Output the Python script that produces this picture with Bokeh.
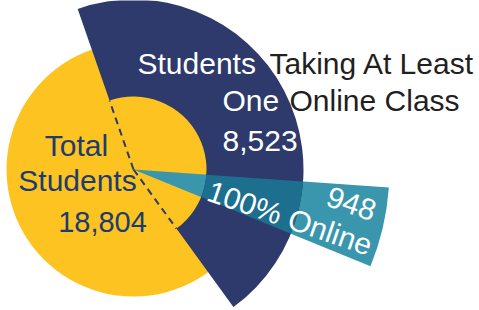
import math
from bokeh.plotting import figure
from bokeh.models import Range1d
from bokeh.core.properties import value
from bokeh.embed import file_html
from bokeh.resources import INLINE

# ---- data ----
categories = ["Total Students", "Students Taking At Least One Online Class", "100% Online"]
values = [18804, 8523, 948]
value_labels = [f"{v:,}" for v in values]

# ---- styles ----
YELLOW = "#FDC320"
NAVY = "#2D3A6B"
TEAL = "#3A96AD"
TEAL_DARK = "#1D6F8F"
LABEL_BLUE = "#1C3C70"
DARK = "#231F20"
FONT = value("Liberation Sans")

R_TOTAL = 127
R_INNER = 73
R_ONLINE = 170
R_FULL = 256
navy_start = math.radians(-54.0)
teal_start = math.radians(-22.2)

total = values[0]
navy_end = navy_start + 2 * math.pi * values[1] / total
teal_end = teal_start + 2 * math.pi * values[2] / total

W, H = 479, 310
cx_page, cy_page = 133, 169
x0 = -cx_page
y1 = cy_page

p = figure(width=W, height=H, output_backend="svg", toolbar_location=None,
           x_axis_type=None, y_axis_type=None, min_border=0,
           x_range=Range1d(x0, x0 + W), y_range=Range1d(y1 - H, y1))
p.outline_line_color = None
p.background_fill_color = "white"
p.border_fill_color = "white"

# total circle
p.wedge(x=[0], y=[0], radius=[R_TOTAL], start_angle=[0], end_angle=[2 * math.pi - 1e-6],
        fill_color=YELLOW, line_color=None)
# 100% online wedge
p.wedge(x=[0], y=[0], radius=[R_FULL], start_angle=[teal_start], end_angle=[teal_end],
        fill_color=TEAL, line_color=None)
# at least one online class
p.annular_wedge(x=[0], y=[0], inner_radius=[R_INNER], outer_radius=[R_ONLINE],
                start_angle=[navy_start], end_angle=[navy_end],
                fill_color=NAVY, line_color=None)
# overlap
p.annular_wedge(x=[0], y=[0], inner_radius=[R_INNER], outer_radius=[R_ONLINE],
                start_angle=[teal_start], end_angle=[teal_end],
                fill_color=TEAL_DARK, line_color=None)
# dashed edges inside the total circle
p.segment(x0=[0, 0], y0=[0, 0],
          x1=[R_INNER * math.cos(navy_start), R_INNER * math.cos(navy_end)],
          y1=[R_INNER * math.sin(navy_start), R_INNER * math.sin(navy_end)],
          line_color=NAVY, line_width=2, line_dash="7 5")


def label(txt, px, py, color, size=30, align="left", angle=0.0):
    # lift the anchor "up" in the text's own frame (page coords, y down)
    lift = 0.37 * size
    px -= lift * math.sin(angle)
    py -= lift * math.cos(angle)
    x, y = px - cx_page, cy_page - py
    p.text(x=[x], y=[y], text=[txt], text_font=FONT, text_font_size=f"{size}px",
           text_color=color, text_align=align, text_baseline="alphabetic", angle=angle)


# Total students
label("Total", 76, 156, LABEL_BLUE, 30, "center")
label("Students", 77, 191, LABEL_BLUE, 30, "center")
label(value_labels[0], 102, 232, LABEL_BLUE, 29, "center")

# at least one online class
label("Students", 137, 74, "white")
label("Taking At Least", 269, 74, DARK)
label("One", 222, 111, "white")
label("Online Class", 289, 111, DARK)
label(value_labels[1], 222, 152, "white")

# 100% online
rot = math.radians(-19)
label(value_labels[2], 371, 222, "white", 30, "right", rot)
label(categories[2], 367, 256, "white", 30, "right", rot)

open("out.html", "w").write(file_html(p, INLINE))
